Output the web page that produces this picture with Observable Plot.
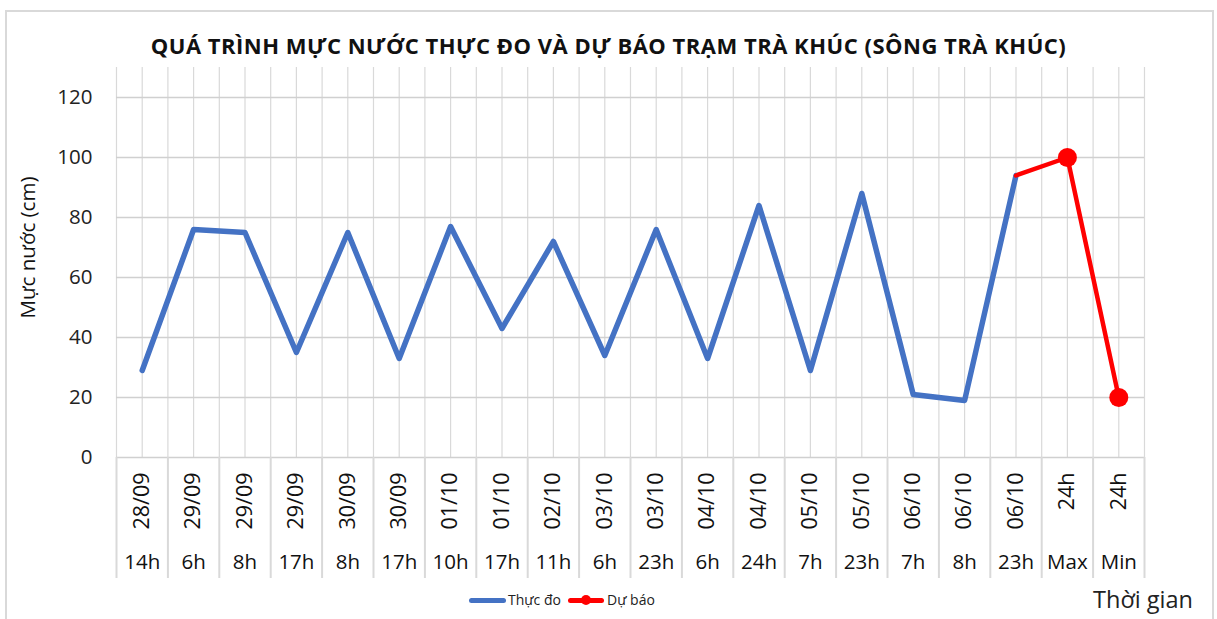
<!DOCTYPE html>
<html>
<head>
<meta charset="utf-8">
<script src="https://cdn.jsdelivr.net/npm/d3@7"></script>
<script src="https://cdn.jsdelivr.net/npm/@observablehq/plot@0.6"></script>
<style>
  html, body { margin: 0; padding: 0; background: #fff; }
  body { width: 1217px; height: 619px; overflow: hidden; position: relative; font-family: "Open Sans", sans-serif; }
  #frame { position: absolute; left: 5px; top: 10px; width: 1205px; height: 700px; border: 2px solid #d9d9d9; pointer-events: none; }
  #title { height: 60px; line-height: 90px; text-align: center; font-weight: 700; font-size: 22px; letter-spacing: 0.5px; color: #111; white-space: nowrap; }
  #chart svg { display: block; }
  #legend { position: relative; height: 20px; font-size: 14px; color: #222; }
  .item { position: absolute; top: 0; height: 20px; line-height: 20px; }
  .sw { position: absolute; top: 7.5px; height: 5px; border-radius: 2.5px; }
  .dot { position: absolute; top: 5px; width: 10px; height: 10px; border-radius: 5px; background: #ff0000; }
  #xlabel { position: absolute; right: 24px; top: -6px; font-size: 23.5px; color: #222; line-height: 30px; }
</style>
</head>
<body>
<div id="title">QUÁ TRÌNH MỰC NƯỚC THỰC ĐO VÀ DỰ BÁO TRẠM TRÀ KHÚC (SÔNG TRÀ KHÚC)</div>
<div id="chart"></div>
<div id="legend">
  <div class="item" style="left:469px;width:40px"><div class="sw" style="left:0;width:37px;background:#4472C4"></div></div>
  <div class="item" style="left:508px">Thực đo</div>
  <div class="item" style="left:568px;width:40px"><div class="sw" style="left:0;width:36px;background:#ff0000"></div><div class="dot" style="left:13px"></div></div>
  <div class="item" style="left:607px">Dự báo</div>
  <div id="xlabel">Thời gian</div>
</div>
<div id="frame"></div>
<script>
const dates = ["28/09","29/09","29/09","29/09","30/09","30/09","01/10","01/10","02/10","03/10","03/10","04/10","04/10","05/10","05/10","06/10","06/10","06/10","24h","24h"];
const hours = ["14h","6h","8h","17h","8h","17h","10h","17h","11h","6h","23h","6h","24h","7h","23h","7h","8h","23h","Max","Min"];
const observed = [29,76,75,35,75,33,77,43,72,34,76,33,84,29,88,21,19,94,null,null];
const forecast = [null,null,null,null,null,null,null,null,null,null,null,null,null,null,null,null,null,94,100,20];
const yTicks = [0,20,40,60,80,100,120];
const yLabel = "Mực nước (cm)";
const seriesNames = ["Thực đo", "Dự báo"];

const n = dates.length;
const rows = dates.map((d, i) => ({i, date: d, hour: hours[i], obs: observed[i], fc: forecast[i]}));
const obsRows = rows.filter(d => d.obs != null);
const fcRows = rows.filter(d => d.fc != null);
const fcDots = rows.filter(d => d.fc != null && d.obs == null);

const W = 1217, H = 530, mTop = 7, mBottom = 133, mLeft = 116, mRight = 73;
const plotH = H - mTop - mBottom;
const grid = d3.range(-0.5, n, 0.5);
const bounds = d3.range(-0.5, n + 0.5, 1);
const font = "Open Sans, sans-serif";

const chart = Plot.plot({
  width: W, height: H,
  marginTop: mTop, marginBottom: mBottom, marginLeft: mLeft, marginRight: mRight,
  style: {fontFamily: font, color: "#333", background: "transparent"},
  x: {type: "linear", domain: [-0.5, n - 0.5], axis: null},
  y: {domain: [0, 130], axis: null},
  marks: [
    Plot.ruleX(grid, {x: d => d, stroke: "#d9d9d9", strokeWidth: 1.2, strokeOpacity: 1}),
    Plot.ruleY(yTicks, {y: d => d, stroke: "#d0d0d0", strokeWidth: 1.5, strokeOpacity: 1}),
    Plot.ruleX(bounds, {x: d => d, insetTop: plotH, insetBottom: -121, stroke: "#d9d9d9", strokeWidth: 2, strokeOpacity: 1}),
    Plot.axisY(yTicks, {tickSize: 0, tickPadding: 24, fontSize: 20.5, label: null, fill: "#222"}),
    Plot.text([yLabel], {text: d => d, frameAnchor: "left", rotate: -90, dx: -88, dy: -15, fontSize: 20.5, fill: "#111", textAnchor: "middle", lineAnchor: "middle"}),
    Plot.text(rows, {x: "i", text: "date", frameAnchor: "bottom", rotate: -90, textAnchor: "end", lineAnchor: "middle", dy: 15, fontSize: 21.5, fill: "#111"}),
    Plot.text(rows, {x: "i", text: "hour", frameAnchor: "bottom", lineAnchor: "middle", dy: 105, fontSize: 20.5, fill: "#111"}),
    Plot.line(obsRows, {x: "i", y: "obs", stroke: "#4472C4", strokeWidth: 5.5, strokeLinejoin: "round", strokeLinecap: "round"}),
    Plot.line(fcRows, {x: "i", y: "fc", stroke: "#ff0000", strokeWidth: 4.5, strokeLinejoin: "round"}),
    Plot.dot(fcDots, {x: "i", y: "fc", r: 9.5, fill: "#ff0000", stroke: "none"})
  ]
});
document.getElementById("chart").appendChild(chart);
</script>
</body>
</html>
